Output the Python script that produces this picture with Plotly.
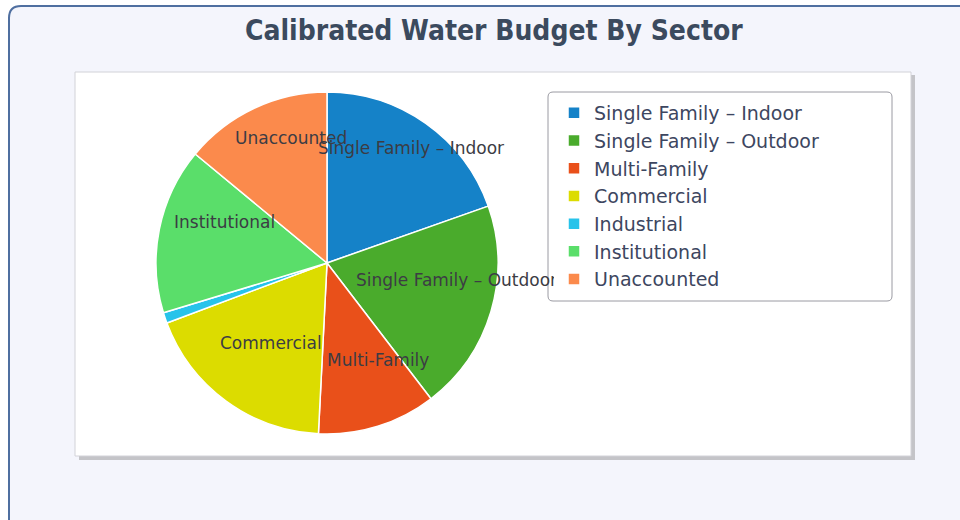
import math
import plotly.graph_objects as go

categories = ["Single Family – Indoor", "Single Family – Outdoor", "Multi-Family",
              "Commercial", "Industrial", "Institutional", "Unaccounted"]
values = [19.6, 20.0, 11.2, 18.5, 1.0, 15.7, 14.0]
colors = ["#1582c8", "#4aab2c", "#e9501a", "#dcdc00", "#27c3ea", "#5ade6a", "#fb8a4c"]
shown_labels = ["Single Family – Indoor", "Single Family – Outdoor", "Multi-Family",
                "Commercial", "Institutional", "Unaccounted"]

W, H = 960, 520
cx, cy, R = 327, 263, 171  # pie centre / radius in px


def px(x):
    return x / W


def py(y):
    return 1 - y / H


fig = go.Figure()
fig.add_trace(go.Pie(
    labels=categories, values=values, sort=False, direction="clockwise", rotation=0,
    marker=dict(colors=colors, line=dict(color="white", width=1.5)),
    textinfo="none", hoverinfo="label+percent",
    domain=dict(x=[px(cx - R), px(cx + R)], y=[py(cy + R), py(cy - R)]),
))

# data labels placed from slice mid-angles
total = sum(values)
annotations = []
cum = 0.0
for lab, v in zip(categories, values):
    mid = (cum + v / 2) / total * 2 * math.pi
    cum += v
    if lab not in shown_labels:
        continue
    lx = cx + 0.7 * R * math.sin(mid)
    ly = cy - 0.7 * R * math.cos(mid)
    annotations.append(dict(x=px(lx), y=py(ly), xref="paper", yref="paper", text=lab,
                            showarrow=False, xshift=15, yshift=17,
                            xanchor="center", yanchor="middle",
                            font=dict(family="DejaVu Sans", size=17, color="#3c3c44")))

annotations.append(dict(x=px(494), y=py(30), xref="paper", yref="paper",
                        xanchor="center", yanchor="middle",
                        text="<b>Calibrated Water Budget By Sector</b>", showarrow=False,
                        font=dict(family="DejaVu Sans Condensed, Liberation Sans Narrow, Open Sans, sans-serif",
                                  size=28, color="#3b4a5e")))

shapes = [
    # outer panel
    dict(type="path", xref="paper", yref="paper", layer="below",
         path=f"M {px(9)},{py(530)} L {px(9)},{py(18)} Q {px(9)},{py(6)} {px(21)},{py(6)} "
              f"L {px(975)},{py(6)} L {px(975)},{py(530)} Z",
         fillcolor="#f4f5fc", line=dict(color="#4f6fa0", width=2)),
    # inner box shadow
    dict(type="rect", xref="paper", yref="paper", layer="below",
         x0=px(79), x1=px(915), y0=py(460), y1=py(75),
         fillcolor="#c4c4c8", line=dict(width=0)),
    # inner box
    dict(type="rect", xref="paper", yref="paper", layer="below",
         x0=px(75), x1=px(911), y0=py(456), y1=py(72),
         fillcolor="white", line=dict(color="#d2d2d8", width=1)),
    # legend box
    dict(type="path", xref="paper", yref="paper", layer="above",
         path=f"M {px(553)},{py(92)} L {px(887)},{py(92)} Q {px(892)},{py(92)} {px(892)},{py(97)} "
              f"L {px(892)},{py(296)} Q {px(892)},{py(301)} {px(887)},{py(301)} "
              f"L {px(553)},{py(301)} Q {px(548)},{py(301)} {px(548)},{py(296)} "
              f"L {px(548)},{py(97)} Q {px(548)},{py(92)} {px(553)},{py(92)} Z",
         fillcolor="white", line=dict(color="#9a9aa2", width=1)),
]

fig.update_layout(
    width=W, height=H, margin=dict(l=0, r=0, t=0, b=0),
    paper_bgcolor="white", plot_bgcolor="white",
    showlegend=True,
    legend=dict(x=px(554), y=py(94), xanchor="left", yanchor="top",
                bgcolor="white", borderwidth=0,
                font=dict(family="DejaVu Sans", size=19, color="#3d4660"),
                traceorder="normal"),
    annotations=annotations, shapes=shapes,
)

post = ("document.body.style.margin='0';"
        "var gd=document.getElementById('{plot_id}');"
        "var l=gd.querySelector('.legend');if(l){l.parentNode.appendChild(l);}")
fig.write_html("out.html", post_script=post, config={"displayModeBar": False})
